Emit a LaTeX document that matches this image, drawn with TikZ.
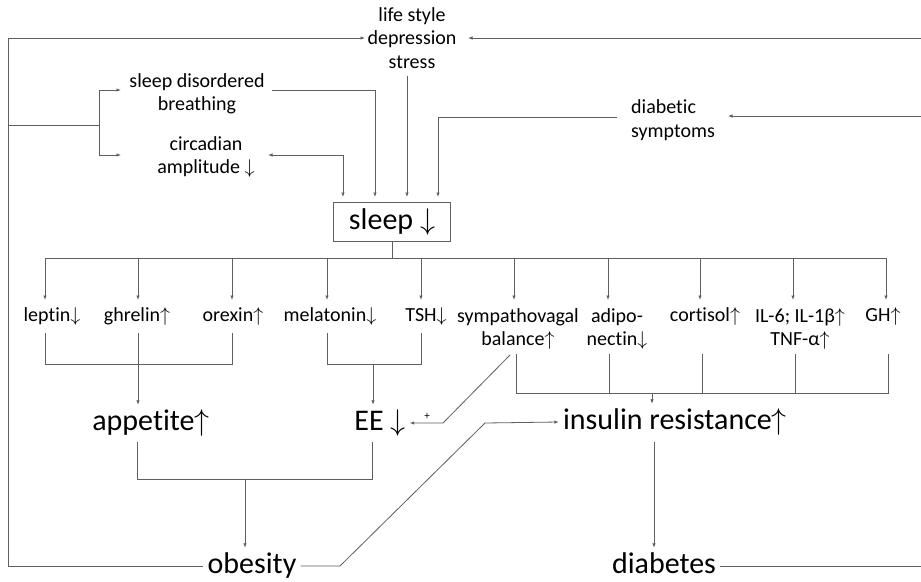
\RequirePackage{fix-cm}
\documentclass[tikz,border=0pt]{standalone}
\usepackage{fontspec}
\setmainfont{Carlito}[Ligatures=NoCommon]
\newcommand\uparr{\ensuremath{\uparrow}}
\newcommand\dnarr{\ensuremath{\downarrow}}
\usetikzlibrary{arrows.meta}
\definecolor{lc}{RGB}{95,95,95}
\tikzset{
  ln/.style={draw=lc, line width=0.8pt},
  arr/.style={ln, -{Latex[length=4.5pt,width=3.5pt]}},
  darr/.style={ln, {Latex[length=4.5pt,width=3.5pt]}-{Latex[length=4.5pt,width=3.5pt]}},
  txt/.style={font=\fontsize{20}{23.5}\selectfont, inner sep=2pt, align=center},
  lbl/.style={txt, text height=14pt, text depth=5pt},
  big/.style={font=\fontsize{30}{36}\selectfont, inner sep=4pt, text height=21pt, text depth=7pt},
}
\begin{document}
\begin{tikzpicture}[x=1pt,y=-1pt]
\useasboundingbox (0,0) rectangle (921,581);
\fill[white] (0,0) rectangle (921,581);

% ---------- text nodes ----------
\node[txt] (life) at (412,38) {life style\\depression\\stress};
\node[txt] (sdb) at (197,94) {sleep disordered\\breathing};
\node[txt] (circ) at (206,157) {circadian\\amplitude \dnarr};
\node[txt, align=left, anchor=west] (diab) at (629,120) {diabetic\\symptoms};
\node[draw=lc, line width=0.8pt, minimum width=117pt, minimum height=39pt, inner sep=0pt,
      font=\fontsize{30}{36}\selectfont] (sleep) at (392,222) {sleep \dnarr};

\node[lbl] (lep) at (52,317) {leptin\dnarr};
\node[lbl] (ghr) at (137,317) {ghrelin\uparr};
\node[lbl] (orx) at (233,317) {orexin\uparr};
\node[lbl] (mel) at (330,317) {melatonin\dnarr};
\node[lbl] (tsh) at (426,317) {TSH\dnarr};
\node[txt] (sym) at (518,329) {sympathovagal\\balance\uparr};
\node[txt] (adi) at (617,329) {adipo-\\nectin\dnarr};
\node[lbl] (cor) at (705,317) {cortisol\uparr};
\node[txt] (il) at (800,329) {IL-6; IL-1β\uparr\\TNF-α\uparr};
\node[lbl] (gh) at (883,317) {GH\uparr};

\node[big] (app) at (151,423) {appetite\uparr};
\node[big] (ee) at (380,423) {EE \dnarr};
\node[big] (ins) at (675,422) {insulin resistance\uparr};
\node[big] (obes) at (252,566) {obesity};
\node[big] (diabs) at (664,566) {diabetes};
\node[font=\fontsize{11}{12}\selectfont, inner sep=0pt] (plus) at (427,416) {+};

% ---------- coordinates ----------
\coordinate (lt) at (8,38);
\coordinate (lm) at (8,125);
\coordinate (bm) at (99,125);
\coordinate (sdbL) at (121,90);
\coordinate (circL) at (121,155);
\coordinate (lifeL) at (365,38);
\coordinate (lifeR) at (468,38);
\coordinate (rt) at (921,38);
\coordinate (rm) at (921,116);
\coordinate (rb) at (921,566);
\coordinate (sdbR) at (272,90);
\coordinate (circR) at (268,155);
\coordinate (lifeB) at (407,76);
\coordinate (diabL) at (617,117);
\coordinate (diabR) at (728,116);
\coordinate (s1) at (343,197);
\coordinate (s2) at (375,197);
\coordinate (s3) at (407,197);
\coordinate (s4) at (438,197);
\coordinate (hb) at (0,258);

% ---------- top connectors ----------
\draw[arr] (obes.west) -| (lt) -- (lifeL);
\draw[ln] (lm) -- (bm);
\draw[arr] (bm) |- (sdbL);
\draw[arr] (bm) |- (circL);
\draw[arr] (rt) -- (lifeR);
\draw[arr] (rm) -- (diabR);
\draw[arr] (sdbR) -| (s2);
\draw[darr] (circR) -| (s1);
\draw[arr] (lifeB) -- (s3);
\draw[arr] (diabL) -| (s4);

% ---------- sleep to factors ----------
\draw[ln] (sleep.south) -- (sleep.south |- hb);
\draw[ln] (45,258) -- (886,258);
\foreach \x in {45,138,232,327,421,514,608,700,793,886}
  \draw[arr] (\x,258) -- (\x,300);

% ---------- brackets ----------
\draw[ln] (45,333) |- (232,364) -- (232,333);
\draw[arr] (138,333) -- (app.north -| 138,0);
\draw[ln] (327,333) |- (421,364) -- (421,333);
\draw[arr] (373,364) -- (ee.north -| 373,0);
\draw[ln] (516,354) |- (888,393) -- (888,354);
\foreach \x in {609,702,795} \draw[ln] (\x,354) -- (\x,393);
\draw[arr] (652,393) -- (ins.north -| 652,0);

\draw[ln] (137,442) |- (372,479) -- (372,442);
\draw[arr] (245,479) -- (obes.north -| 245,0);
\draw[arr] (654,442) -- (diabs.north -| 654,0);

% ---------- diagonals ----------
\draw[arr] (obes.east) -- (340,566) -- (485,423) -- (ins.west);
\draw[arr] (510,355) -- (443,423) -- (ee.east);
\draw[ln] (diabs.east) -- (rb);
\end{tikzpicture}
\end{document}
